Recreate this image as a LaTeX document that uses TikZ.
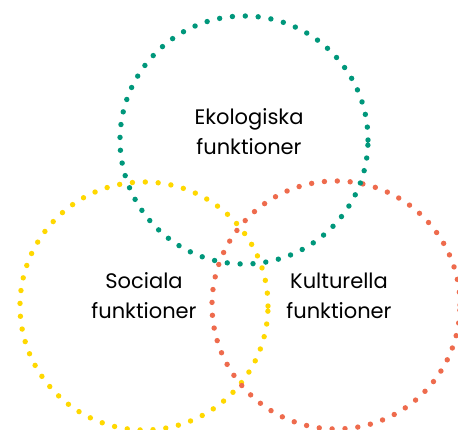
\documentclass[tikz,border=0pt]{standalone}
\usepackage{fontspec}
\setmainfont{Poppins}
\usepackage{tikz}
\definecolor{ekogreen}{HTML}{00977B}
\definecolor{socyellow}{HTML}{FFD800}
\definecolor{kulred}{HTML}{EE6B4D}

\begin{document}
\begin{tikzpicture}[x=1pt,y=1pt,
    ring/.style={circle,minimum size=248pt,inner sep=0pt,line width=5.4pt,
      line cap=round,dash pattern=on 0pt off 12.9pt},
    lbl/.style={align=center,font=\fontsize{21}{30}\selectfont,text=black}]

      \useasboundingbox (0,0) rectangle (458,430);

      \node[ring,draw=socyellow] (s) at (144,124){};
      \node[ring,draw=kulred] (k) at (336,125){};
      \node[ring,draw=ekogreen] (e) at (244,290){};

      \node[lbl] (te) at (249,298){Ekologiska\\funktioner};
      \node[lbl] (ts) at (144,134){Sociala\\funktioner};
      \node[lbl] (tk) at (339,134){Kulturella\\funktioner};
    \end{tikzpicture}
\end{document}
